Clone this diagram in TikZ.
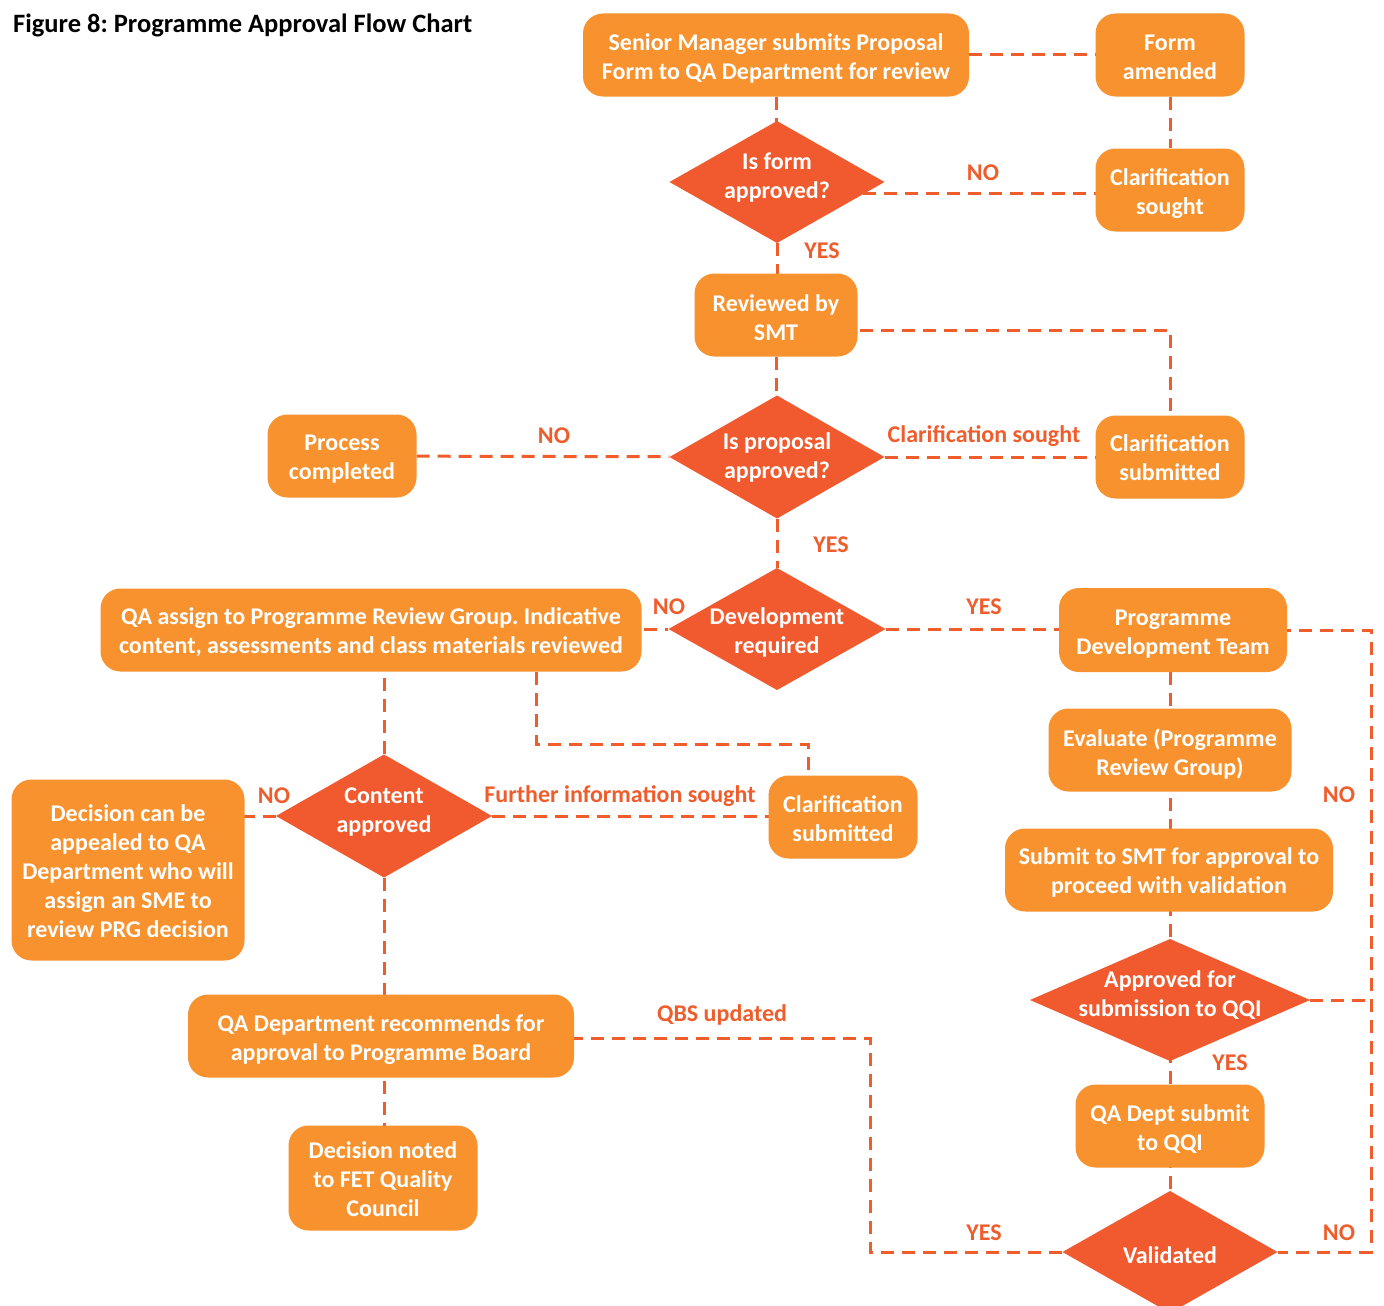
\documentclass[tikz,border=0pt]{standalone}
\usepackage{fontspec}
\setmainfont{Carlito}
\frenchspacing
\pgfdeclarelayer{back}
\pgfdeclarelayer{bg}
\pgfsetlayers{back,bg,main}
\definecolor{boxc}{HTML}{F7922F}
\definecolor{dmdc}{HTML}{F15A2E}
\definecolor{linec}{HTML}{F05D2C}
\newcommand{\fnt}{\fontsize{24}{29}\selectfont\bfseries}
\tikzset{
  box/.style={draw=none, fill=boxc, rounded corners=20pt, inner sep=0pt},
  dmd/.style={draw=none, inner sep=0pt,
    path picture={\fill[dmdc] (path picture bounding box.north) -- (path picture bounding box.east)
      -- (path picture bounding box.south) -- (path picture bounding box.west) -- cycle;}},
  txt/.style={text=white, align=center, font=\fnt, inner sep=0pt},
  conn/.style={draw=linec, line width=3pt, dash pattern=on 13pt off 8pt},
  lbl/.style={text=linec, font=\fnt, inner sep=0pt}
}
\begin{document}
\begin{tikzpicture}[x=1pt,y=-1pt]
\clip (0,0) rectangle (1384,1306);
\begin{pgfonlayer}{back}
\fill[white] (0,0) rectangle (1384,1306);
\end{pgfonlayer}
\node[anchor=west, font=\fontsize{26.5}{30}\selectfont\bfseries, inner sep=0pt] (title) at (13,25) {Figure 8: Programme Approval Flow Chart};
% boxes
\node[box, minimum width=386, minimum height=83] (smp) at (776,55) {};
\node[txt] (smp-t) at ([yshift=-3pt]smp.center) {Senior Manager submits Proposal\\Form to QA Department for review};
\node[box, minimum width=149, minimum height=83] (fa) at (1170,55) {};
\node[txt] (fa-t) at ([yshift=-2pt]fa.center) {Form\\amended};
\node[box, minimum width=149, minimum height=83] (cs1) at (1170,190) {};
\node[txt] (cs1-t) at ([yshift=-4pt]cs1.center) {Clarification\\sought};
\node[box, minimum width=163, minimum height=83] (smt) at (776,315) {};
\node[txt] (smt-t) at ([yshift=-2.5pt]smt.center) {Reviewed by\\SMT};
\node[box, minimum width=149, minimum height=83] (pc) at (342,456) {};
\node[txt] (pc-t) at ([yshift=-3pt]pc.center) {Process\\completed};
\node[box, minimum width=149, minimum height=83] (csub1) at (1170,457) {};
\node[txt] (csub1-t) at ([yshift=-1pt]csub1.center) {Clarification\\submitted};
\node[box, minimum width=541, minimum height=83] (qa) at (371,630) {};
\node[txt] (qa-t) at ([yshift=-2.5pt]qa.center) {QA assign to Programme Review Group. Indicative\\content, assessments and class materials reviewed};
\node[box, minimum width=228, minimum height=84] (pdt) at (1173,630) {};
\node[txt] (pdt-t) at ([yshift=-4.5pt]pdt.center) {Programme\\Development Team};
\node[box, minimum width=243, minimum height=83] (eval) at (1170,750) {};
\node[txt] (eval-t) at ([yshift=-4pt]eval.center) {Evaluate (Programme\\Review Group)};
\node[box, minimum width=328, minimum height=83] (submit) at (1169,870) {};
\node[txt] (submit-t) at ([yshift=-2.5pt]submit.center) {Submit to SMT for approval to\\proceed with validation};
\node[box, minimum width=189, minimum height=83] (qadept) at (1170,1126) {};
\node[txt] (qadept-t) at ([yshift=-3pt]qadept.center) {QA Dept submit\\to QQI};
\node[box, minimum width=233, minimum height=181] (dec) at (128,870) {};
\node[txt] (dec-t) at ([yshift=-1pt]dec.center) {Decision can be\\appealed to QA\\Department who will\\assign an SME to\\review PRG decision};
\node[box, minimum width=149, minimum height=83] (csub2) at (843,817) {};
\node[txt] (csub2-t) at ([yshift=-2pt]csub2.center) {Clarification\\submitted};
\node[box, minimum width=386, minimum height=83] (qarec) at (381,1036) {};
\node[txt] (qarec-t) at ([yshift=-4pt]qarec.center) {QA Department recommends for\\approval to Programme Board};
\node[box, minimum width=189, minimum height=105] (noted) at (383,1178) {};
\node[txt] (noted-t) at ([yshift=-1pt]noted.center) {Decision noted\\to FET Quality\\Council};
% diamonds
\node[dmd, minimum width=215, minimum height=122] (isform) at (777,182) {};
\node[txt] (isform-t) at ([yshift=4pt]isform.center) {Is form\\approved?};
\node[dmd, minimum width=215, minimum height=123] (isprop) at (777,457) {};
\node[txt] (isprop-t) at (isprop.center) {Is proposal\\approved?};
\node[dmd, minimum width=217, minimum height=122] (dev) at (777,629) {};
\node[txt] (dev-t) at ([yshift=-3pt]dev.center) {Development\\required};
\node[dmd, minimum width=216, minimum height=123] (content) at (384,816) {};
\node[txt] (content-t) at ([yshift=3.5pt]content.center) {Content\\approved};
\node[dmd, minimum width=280, minimum height=122] (aqqi) at (1170,1000) {};
\node[txt] (aqqi-t) at ([yshift=4.5pt]aqqi.center) {Approved for\\submission to QQI};
\node[dmd, minimum width=215, minimum height=122] (valid) at (1170,1252) {};
\node[txt] (valid-t) at ([yshift=-3pt]valid.center) {Validated};
% helper coordinates
\coordinate (rc1) at (1371,630);
\coordinate (rc2) at (1371,1252);
\coordinate (lc1) at (870,1252);
\coordinate (lc2) at (870,1038);
\coordinate (m1) at (536,744);
\coordinate (m2) at (808,744);
% connectors
\begin{pgfonlayer}{bg}
\draw[conn] (smp.center) -- (smp.center |- isform.center);
\draw[conn] (smp) -- (fa);
\draw[conn] (fa) -- (cs1);
\draw[conn] ([yshift=-3pt]cs1.center) -- ([yshift=-3pt]cs1.center -| isform.center);
\draw[conn] (isform) -- (isform |- smt.center);
\draw[conn] ([yshift=-15pt]smt.center) -| (csub1.center);
\draw[conn] (smt) -- (smt |- isprop.center);
\draw[conn] (pc) -- (isprop);
\draw[conn] (isprop) -- (csub1);
\draw[conn] (isprop) -- (dev);
\draw[conn] (qa.center |- dev.center) -- (dev);
\draw[conn] (dev) -- (dev -| pdt.center);
\draw[conn] (pdt.center) -- (rc1) -- (rc2) -- (valid);
\draw[conn] (aqqi) -- (aqqi -| rc1);
\draw[conn] (valid |- pdt.center) -- (valid);
\draw[conn] (valid) -- (lc1) -- (lc2) -- (lc2 -| qarec.center);
\draw[conn] (content) -- (content |- qa.center);
\draw[conn] (m1 |- qa.center) -- (m1) -- (m2) -- (m2 |- csub2.center);
\draw[conn] (content) -- (content -| csub2.center);
\draw[conn] (content) -- (content -| dec.center);
\draw[conn] (content) -- (content |- qarec.center);
\draw[conn] (content |- noted.center) -- (content |- qarec.center);
\end{pgfonlayer}
% labels
\node[lbl] (l1) at (983,173) {NO};
\node[lbl] (l2) at (822,251) {YES};
\node[lbl] (l3) at (554,436) {NO};
\node[lbl] (l4) at (984,436) {Clarification sought};
\node[lbl] (l5) at (831,545) {YES};
\node[lbl] (l6) at (669,607) {NO};
\node[lbl] (l7) at (984,607) {YES};
\node[lbl] (l8) at (274,796) {NO};
\node[lbl] (l9) at (620,796) {Further information sought};
\node[lbl] (l10) at (1339,795) {NO};
\node[lbl] (l11) at (722,1015) {QBS updated};
\node[lbl] (l12) at (1230,1063) {YES};
\node[lbl] (l13) at (984,1233) {YES};
\node[lbl] (l14) at (1339,1233) {NO};
\end{tikzpicture}
\end{document}
